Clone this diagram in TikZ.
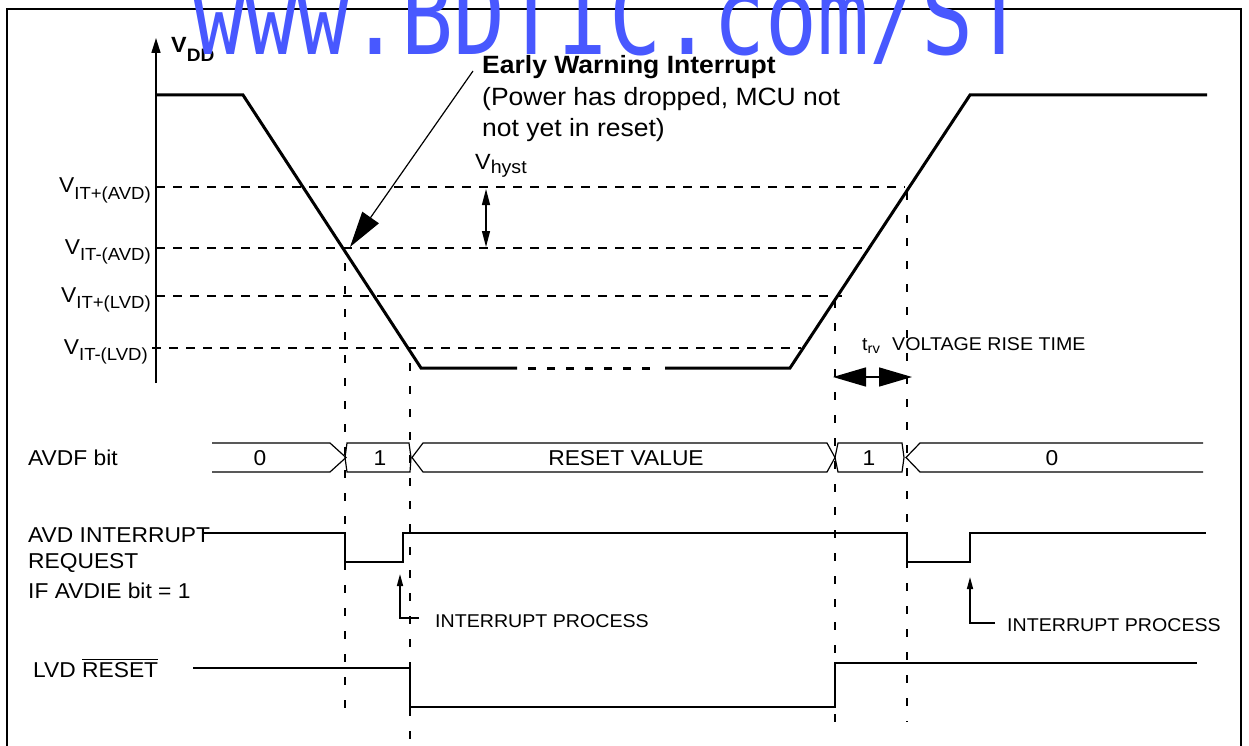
\documentclass[tikz,border=0pt]{standalone}
\usepackage{fontspec}
\setmainfont{Liberation Sans}[FakeStretch=1.06]
\newfontfamily\wmfont{DejaVu Sans Mono}
\usetikzlibrary{arrows.meta}
\definecolor{wmblue}{RGB}{72,88,255}
\newcommand\fs[1]{\fontsize{#1}{#1}\selectfont}
\newcommand\Vlab[1]{V\raisebox{-6pt}{\fs{17.5}#1}}
\newcommand\ovl[1]{\leavevmode\vbox{\hrule height 1.4pt\kern 1.8pt\hbox{#1}}}
\tikzset{
  lbl/.style={inner sep=0pt, font=\fs{21.5}},
  small/.style={inner sep=0pt, font=\fs{18.5}},
  wave/.style={line width=3pt, line join=miter},
  sig/.style={line width=1.6pt},
  bus/.style={line width=1.2pt},
  hdash/.style={line width=1.4pt, dash pattern=on 9pt off 8pt},
  vdash/.style={line width=1.6pt, dash pattern=on 8pt off 15pt},
  border/.style={line width=1.7pt},
}
\begin{document}
\begin{tikzpicture}[x=1pt,y=-1pt]
\useasboundingbox (0,0) rectangle (1249,746);
% border
\draw[border] (7,770) -- (7,9) -- (1241,9) -- (1241,770);
% axis
\draw[line width=1.6pt, -{Triangle[length=15pt,width=9pt]}] (156,383) -- (156,38);
\node[anchor=base west, inner sep=0pt, font=\fs{22}\bfseries] (vdd) at (171,53) {V\raisebox{-9pt}{\fs{18}DD}};
% threshold labels
\node[lbl, anchor=base east] (l1) at (151,193) {\Vlab{IT+(AVD)}};
\node[lbl, anchor=base east] (l2) at (151,254) {\Vlab{IT-(AVD)}};
\node[lbl, anchor=base east] (l3) at (151,302) {\Vlab{IT+(LVD)}};
\node[lbl, anchor=base east] (l4) at (148,354) {\Vlab{IT-(LVD)}};
% horizontal dashed
\coordinate (h1a) at (156,187); \coordinate (h1b) at (905,187);
\coordinate (h2a) at (156,248); \coordinate (h2b) at (866,248);
\coordinate (h3a) at (156,296); \coordinate (h3b) at (842,296);
\coordinate (h4a) at (152,348); \coordinate (h4b) at (801,348);
\draw[hdash] (h1a) -- (h1b);
\draw[hdash] (h2a) -- (h2b);
\draw[hdash] (h3a) -- (h3b);
\draw[hdash] (h4a) -- (h4b);
% vertical dashed
\coordinate (va1) at (345,263); \coordinate (va2) at (345,722);
\coordinate (vb1) at (410,363); \coordinate (vb2) at (410,750);
\coordinate (vc1) at (835,300); \coordinate (vc2) at (835,722);
\coordinate (vd1) at (907,192); \coordinate (vd2) at (907,722);
\draw[vdash] (va1) -- (va2);
\draw[vdash] (vb1) -- (vb2);
\draw[vdash] (vc1) -- (vc2);
\draw[vdash] (vd1) -- (vd2);
% VDD waveform
\coordinate (w0) at (156,95); \coordinate (w1) at (243,95);
\coordinate (w2) at (421,368); \coordinate (w3) at (517,368);
\coordinate (w4) at (528,368); \coordinate (w5) at (650,368);
\coordinate (w6) at (665,368); \coordinate (w7) at (790,368);
\coordinate (w8) at (970,95); \coordinate (w9) at (1207,95);
\draw[wave] (w0) -- (w1) -- (w2) -- (w3);
\draw[wave, dash pattern=on 8pt off 11pt] (w4) -- (w5);
\draw[wave] (w6) -- (w7) -- (w8) -- (w9);
% early warning annotation
\node[anchor=base west, inner sep=0pt, font=\fs{25}\bfseries] (ew) at (482,74) {Early Warning Interrupt};
\node[anchor=base west, inner sep=0pt, font=\fs{25}] (ew2) at (482,106) {(Power has dropped, MCU not};
\node[anchor=base west, inner sep=0pt, font=\fs{25}] (ew3) at (482,137) {not yet in reset)};
\coordinate (ewf) at (473,71); \coordinate (ewt) at (350,247);
\draw[line width=1.2pt, -{Triangle[length=36pt,width=20pt]}] (ewf) -- (ewt);
% hysteresis
\node[anchor=base west, inner sep=0pt, font=\fs{22}] (hy) at (475,170) {V\raisebox{-4pt}{\fs{18.5}hyst}};
\coordinate (hya) at (486,189); \coordinate (hyb) at (486,247);
\draw[line width=1.3pt, {Triangle[length=16pt,width=8pt]}-{Triangle[length=16pt,width=8pt]}] (hya) -- (hyb);
% rise time
\node[anchor=base west, inner sep=0pt, font=\fs{18.5}] (trv) at (862,350) {t\raisebox{-3pt}{\fs{14}rv}};
\node[anchor=base west, inner sep=0pt, font=\fs{18.5}] (vrt) at (892,350) {VOLTAGE RISE TIME};
\coordinate (ta) at (833,377); \coordinate (tb) at (912,377);
\draw[line width=1.5pt, {Triangle[length=33pt,width=19pt]}-{Triangle[length=33pt,width=19pt]}] (ta) -- (tb);
% AVDF bus
\node[lbl, anchor=base west] (avdf) at (28,465) {AVDF bit};
\draw[bus] (212,443) -- (330,443) -- (346,457.5) -- (330,472) -- (212,472);
\draw[bus] (347,443) -- (409,443) -- (411,457.5) -- (410,472) -- (347,472) -- (345,457.5) -- cycle;
\draw[bus] (423,443) -- (827,443) -- (835,457.5) -- (827,472) -- (423,472) -- (412,457.5) -- cycle;
\draw[bus] (838,443) -- (902,443) -- (904,457.5) -- (902,472) -- (838,472) -- (835,457.5) -- cycle;
\draw[bus] (1203,443) -- (920,443) -- (906,457.5) -- (920,472) -- (1203,472);
\node[lbl] (b0) at (260,458) {0};
\node[lbl] (b1) at (380,458) {1};
\node[lbl] (b2) at (626,458) {RESET VALUE};
\node[lbl] (b3) at (869,458) {1};
\node[lbl] (b4) at (1052,458) {0};
% AVD interrupt request
\node[lbl, anchor=base west] (ai1) at (28,542) {AVD INTERRUPT};
\node[lbl, anchor=base west] (ai2) at (28,568) {REQUEST};
\node[lbl, anchor=base west] (ai3) at (28,598) {IF AVDIE bit = 1};
\draw[sig] (203,533) -- (345,533) -- (345,562) -- (403,562) -- (403,533) -- (907,533) -- (907,562) -- (970,562) -- (970,533) -- (1206,533);
% interrupt process
\node[small, anchor=base west] (ip1) at (435,627) {INTERRUPT PROCESS};
\coordinate (ip1a) at (419,618); \coordinate (ip1c) at (400,618); \coordinate (ip1t) at (400,574);
\draw[line width=1.5pt, -{Triangle[length=12pt,width=6pt]}] (ip1a) -- (ip1c) -- (ip1t);
\node[small, anchor=base west] (ip2) at (1007,631) {INTERRUPT PROCESS};
\coordinate (ip2a) at (995,623); \coordinate (ip2c) at (970,623); \coordinate (ip2t) at (970,577);
\draw[line width=1.5pt, -{Triangle[length=12pt,width=6pt]}] (ip2a) -- (ip2c) -- (ip2t);
% LVD reset
\node[lbl, anchor=base west] (lvd) at (33,677) {LVD \ovl{RESET}};
\draw[sig] (193,668) -- (410,668) -- (410,707) -- (835,707) -- (835,663) -- (1197,663);
% watermark
\node[anchor=base west, inner sep=0pt, text=wmblue] (wm) at (193,55) {\scalebox{1}[1.25]{\wmfont\fs{86.4}www.BDTIC.com/ST}};
\end{tikzpicture}
\end{document}
